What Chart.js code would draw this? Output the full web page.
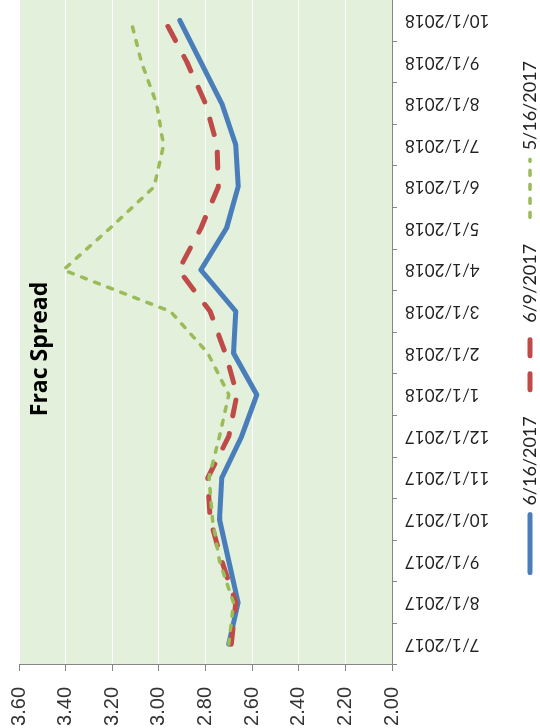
<!DOCTYPE html>
<html>
<head>
<meta charset="utf-8">
<script src="https://cdn.jsdelivr.net/npm/chart.js@4.4.1/dist/chart.umd.min.js"></script>
<style>
  html, body { margin: 0; padding: 0; background: #fff; overflow: hidden; }
  #page { position: relative; width: 540px; height: 728px; overflow: hidden; }
  /* the chart is drawn the normal way and then turned on its side */
  #turn { position: absolute; left: 0; top: 0; width: 738px; height: 540px;
          transform-origin: 0 0; transform: translate(0px, 730px) rotate(-90deg); }
</style>
</head>
<body>
<div id="page"><div id="turn"><canvas id="myChart" width="738" height="540"></canvas></div></div>
<script>
//DATA
//-----------------------------------------

//months on the category axis
let months = ['7/1/2017', '8/1/2017', '9/1/2017', '10/1/2017', '11/1/2017', '12/1/2017',
              '1/1/2018', '2/1/2018', '3/1/2018', '4/1/2018', '5/1/2018', '6/1/2018',
              '7/1/2018', '8/1/2018', '9/1/2018', '10/1/2018']

//frac spread curves, one per pricing date
let spread0616 = [2.70, 2.66, 2.70, 2.74, 2.73, 2.645, 2.58, 2.68, 2.67, 2.82, 2.71, 2.66, 2.67, 2.73, 2.82, 2.91]
let spread0609 = [2.69, 2.67, 2.73, 2.78, 2.79, 2.70, 2.665, 2.715, 2.78, 2.915, 2.82, 2.745, 2.75, 2.80, 2.88, 2.975]
let spread0516 = [2.70, 2.68, 2.74, 2.77, 2.785, 2.74, 2.70, 2.79, 2.95, 3.41, 3.21, 3.02, 2.98, 3.01, 3.075, 3.12]

//value axis range
let yMin = 2.0
let yMax = 3.6
let yStep = 0.2

//-----------------------------------------


//green plot area behind the lines
const plotBackground = {
    id: 'plotBackground',
    beforeDraw(chart) {
        const a = chart.chartArea
        chart.ctx.save()
        chart.ctx.fillStyle = '#E2F0DC'
        chart.ctx.fillRect(a.left, a.top, a.right - a.left, a.bottom - a.top)
        chart.ctx.restore()
    }
}

//title sits inside the plot area, like the excel one
const chartTitle = {
    id: 'chartTitle',
    afterDatasetsDraw(chart) {
        const ctx = chart.ctx
        ctx.save()
        ctx.font = 'bold 23px "Open Sans"'
        ctx.fillStyle = '#000'
        ctx.textAlign = 'center'
        ctx.textBaseline = 'alphabetic'
        ctx.fillText('Frac Spread', 381, 47)
        ctx.restore()
    }
}

//nudge the legend into place
const legendShift = {
    id: 'legendShift',
    afterLayout(chart) {
        chart.legend.left += 15.5
        chart.legend.right += 15.5
        chart.legend.top += 2.5
        chart.legend.bottom += 2.5
    }
}

//legend samples drawn as the lines themselves
function lineLabels(chart) {
    return chart.data.datasets.map(function(ds, i) {
        return {
            text: ds.label,
            datasetIndex: i,
            strokeStyle: ds.borderColor,
            fillStyle: ds.borderColor,
            lineWidth: ds.borderWidth,
            lineDash: ds.borderDash || [],
            lineCap: 'round',
            pointStyle: 'line',
            fontColor: '#222',
            hidden: false
        }
    })
}

var ctx = document.getElementById('myChart').getContext('2d');
var mychart = new Chart(ctx, {
    type: 'line',

    data: {
        labels: months,
        datasets: [{
            label: '6/16/2017',
            data: spread0616,
            borderColor: '#4A7EBB',
            backgroundColor: '#4A7EBB',
            borderWidth: 5,
            borderCapStyle: 'round',
            borderJoinStyle: 'round',
            pointRadius: 0,
            order: 3
        }, {
            label: '6/9/2017',
            data: spread0609,
            borderColor: '#BE4B48',
            backgroundColor: '#BE4B48',
            borderWidth: 5,
            borderDash: [16, 18],
            borderCapStyle: 'round',
            borderJoinStyle: 'round',
            pointRadius: 0,
            order: 2
        }, {
            label: '5/16/2017',
            data: spread0516,
            borderColor: '#9BBB59',
            backgroundColor: '#9BBB59',
            borderWidth: 3.5,
            borderDash: [5, 9],
            borderCapStyle: 'round',
            borderJoinStyle: 'round',
            pointRadius: 0,
            order: 1
        }]
    },

    options: {
        responsive: false,
        animation: false,
        layout: {
            padding: { top: 19, left: 0, right: 0, bottom: -6.5 }
        },
        scales: {
            x: {
                offset: true,
                grid: { offset: true, drawOnChartArea: false, drawTicks: true, tickLength: 5, tickColor: '#868686' },
                border: { color: '#868686', width: 1 },
                ticks: {
                    autoSkip: false,
                    minRotation: 90,
                    maxRotation: 90,
                    padding: 8,
                    color: '#222',
                    font: { family: 'Lato', size: 17 }
                },
                afterFit: function(scale) { scale.height = 100 }
            },
            y: {
                min: yMin,
                max: yMax,
                grid: {
                    color: function(c) { return c.index === 0 ? '#868686' : '#ffffff' },
                    lineWidth: 1,
                    tickLength: 6,
                    tickColor: '#868686'
                },
                border: { color: '#868686', width: 1 },
                ticks: {
                    stepSize: yStep,
                    padding: 16,
                    color: '#333',
                    font: { family: 'Liberation Sans', size: 20 },
                    callback: function(v) { return v.toFixed(2) }
                },
                //fixed width, and no extra room above/below for the labels
                afterFit: function(scale) {
                    scale.width = 65
                    scale.paddingTop = 0
                    scale.paddingBottom = 0
                }
            }
        },
        plugins: {
            legend: {
                position: 'bottom',
                fullSize: false,
                labels: {
                    usePointStyle: true,
                    pointStyleWidth: 58,
                    padding: 26.5,
                    font: { family: 'Lato', size: 18 },
                    generateLabels: lineLabels
                }
            },
            tooltip: { enabled: false }
        }
    },
    plugins: [plotBackground, chartTitle, legendShift]
});
</script>
</body>
</html>
